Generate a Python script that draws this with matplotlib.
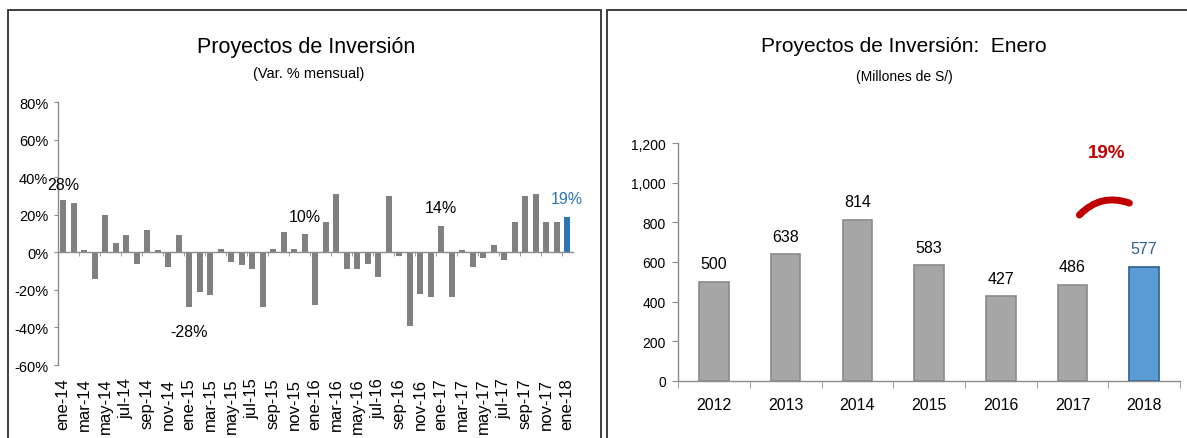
import matplotlib.pyplot as plt
from matplotlib.patches import Rectangle
import numpy as np

plt.rcParams['font.family'] = ['Liberation Sans Narrow', 'Liberation Sans', 'DejaVu Sans']
plt.rcParams['axes.linewidth'] = 1.0

# Datos: variacion % mensual (ene-14 a ene-18)
meses = ['ene', 'feb', 'mar', 'abr', 'may', 'jun', 'jul', 'ago', 'sep', 'oct', 'nov', 'dic']
anios_cortos = ['14', '15', '16', '17']
periodos = [f'{m}-{a}' for a in anios_cortos for m in meses] + ['ene-18']
var_mensual = [28, 26, 1, -14, 20, 5, 9, -6, 12, 1, -8, 9,
               -29, -21, -23, 2, -5, -7, -9, -29, 2, 11, 2, 10,
               -28, 16, 31, -9, -9, -6, -13, 30, -2, -39, -22, -24,
               14, -24, 1, -8, -3, 4, -4, 16, 30, 31, 16, 16,
               19]
idx_etiq = [0, 12, 23, 36, 48]
txt_etiq = ['28%', '-28%', '10%', '14%', '19%']
off_etiq = [11, -18, 12, 13, 13]

# Datos: enero de cada anio (millones de S/)
anios = ['2012', '2013', '2014', '2015', '2016', '2017', '2018']
enero = [500, 638, 814, 583, 427, 486, 577]

GRIS_EJE = '#8c8c8c'
GRIS_BAR = '#808080'
AZUL = '#2e75b6'
W, H = 1187, 439

fig = plt.figure(figsize=(W / 100, H / 100), dpi=100)

# marcos de los paneles
fig.patches.append(Rectangle((8 / W, -0.1), (601 - 8) / W, 1.1 - 11 / H, transform=fig.transFigure,
                             fill=False, ec='#303030', lw=1.3))
fig.patches.append(Rectangle((607 / W, -0.1), 0.6, 1.1 - 11 / H, transform=fig.transFigure,
                             fill=False, ec='#303030', lw=1.3))

### Panel izquierdo
ax = fig.add_axes([58 / W, 1 - 366 / H, (572.5 - 58) / W, (366 - 103) / H])
x = np.arange(len(var_mensual))
colores = [GRIS_BAR] * (len(var_mensual) - 1) + [AZUL]
ax.bar(x, var_mensual, width=0.58, color=colores, zorder=2)
ax.set_xlim(-0.5, len(var_mensual) - 0.5)
ax.set_ylim(-60, 80)
ax.set_yticks(np.arange(-60, 81, 20))
ax.set_yticklabels([f'{v}%' for v in range(-60, 81, 20)], fontsize=10.5)
ax.tick_params(axis='y', direction='out', length=3, color=GRIS_EJE, pad=4)
for s in ['top', 'right']:
    ax.spines[s].set_visible(False)
ax.spines['left'].set_color(GRIS_EJE)
ax.spines['bottom'].set_position(('data', 0))
ax.spines['bottom'].set_color(GRIS_EJE)
ax.set_xticks([])
ax.set_xticks(np.arange(1.5, len(var_mensual) - 1, 2), minor=True)
ax.tick_params(axis='x', which='minor', direction='out', length=3, color=GRIS_EJE, labelbottom=False)

sec = ax.secondary_xaxis('bottom')
sec.set_xticks(x[::2])
sec.set_xticklabels(periodos[::2], rotation=90, fontsize=12, va='top')
sec.tick_params(length=0, pad=9)
sec.spines['bottom'].set_visible(False)

for i, t, o in zip(idx_etiq, txt_etiq, off_etiq):
    c = AZUL if i == len(var_mensual) - 1 else 'black'
    ax.annotate(t, (i, var_mensual[i]), xytext=(0, o), textcoords='offset points',
                ha='center', va='center', fontsize=11.5, color=c)

fig.text(306 / W, 1 - 47 / H, 'Proyectos de Inversión', ha='center', va='center', fontsize=15.5)
fig.text(309 / W, 1 - 74 / H, '(Var. % mensual)', ha='center', va='center', fontsize=10.5)

### Panel derecho
ax2 = fig.add_axes([678.3 / W, 1 - 381.7 / H, (1180 - 678.3) / W, (381.7 - 144.3) / H])
xe = np.arange(len(enero))
ax2.bar(xe, enero, width=0.41,
        color=['#a6a6a6'] * (len(enero) - 1) + ['#5b9bd5'],
        edgecolor=['#8a8a8a'] * (len(enero) - 1) + ['#2f5f8f'], linewidth=1.2, zorder=2)
ax2.set_xlim(-0.5, len(enero) - 0.5)
ax2.set_ylim(0, 1200)
ax2.set_yticks(np.arange(0, 1201, 200))
ax2.set_yticklabels([f'{v:,}' for v in range(0, 1201, 200)], fontsize=10)
ax2.tick_params(axis='y', direction='out', length=4, color=GRIS_EJE, pad=5)
for s in ['top', 'right']:
    ax2.spines[s].set_visible(False)
ax2.spines['left'].set_color(GRIS_EJE)
ax2.spines['bottom'].set_color(GRIS_EJE)
ax2.set_xticks(xe)
ax2.set_xticklabels(anios, fontsize=11.5)
ax2.tick_params(axis='x', which='major', length=0, pad=12)
ax2.set_xticks(np.arange(-0.5, len(enero), 1), minor=True)
ax2.tick_params(axis='x', which='minor', direction='out', length=5, color=GRIS_EJE)

for i, v in enumerate(enero):
    c = '#2f5f98' if i == len(enero) - 1 else 'black'
    ax2.text(i, v + 90, f'{v}', ha='center', va='center', fontsize=11.5, color=c)

ax2.text(5.48, 1155, '19%', ha='center', va='center', fontsize=13.5, fontweight='bold', color='#c00000')
ax2.annotate('', xy=(5.83, 893), xytext=(5.07, 827),
             arrowprops=dict(arrowstyle='-', connectionstyle='arc3,rad=-0.35',
                             color='#c00000', lw=5, capstyle='round'))

fig.text(904 / W, 1 - 47 / H, 'Proyectos de Inversión:  Enero', ha='center', va='center', fontsize=15)
fig.text(904 / W, 1 - 77 / H, '(Millones de S/)', ha='center', va='center', fontsize=10)

fig.savefig('out.png', dpi=100, facecolor='white')
